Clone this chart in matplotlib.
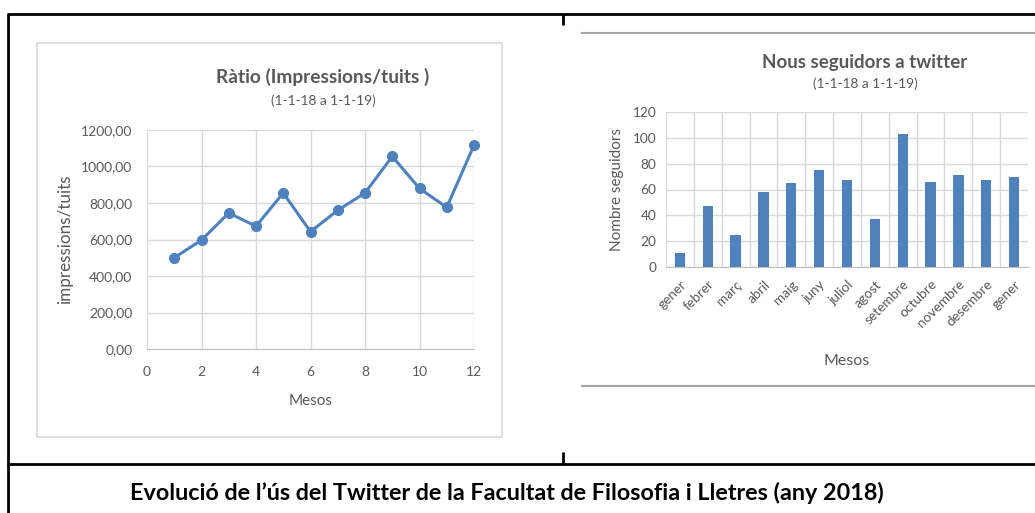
import matplotlib
matplotlib.use("Agg")
import matplotlib.pyplot as plt
from matplotlib.patches import Rectangle
from matplotlib.lines import Line2D

plt.rcParams['font.family'] = ['Lato', 'DejaVu Sans']

# ---- data ----
months_num = [1, 2, 3, 4, 5, 6, 7, 8, 9, 10, 11, 12]
ratio_values = [500, 597, 745, 673, 855, 643, 760, 855, 1055, 880, 776, 1117]

month_labels = ['gener', 'febrer', 'març', 'abril', 'maig', 'juny', 'juliol',
                'agost', 'setembre', 'octubre', 'novembre', 'desembre', 'gener']
followers = [11, 47, 25, 58, 65, 75, 67, 37, 103, 66, 71, 67, 70]

ratio_yticks = [0, 200, 400, 600, 800, 1000, 1200]
ratio_xticks = [0, 2, 4, 6, 8, 10, 12]
foll_yticks = [0, 20, 40, 60, 80, 100, 120]

W, H = 1035, 513
BLUE = '#4F81BD'
TXT = '#595959'
GRID = '#D9D9D9'

fig = plt.figure(figsize=(W / 100, H / 100), dpi=100)


def fx(x):
    return x / W


def fy(y):
    return 1 - y / H


def hline(x0, x1, y, color='black', lw=2.0):
    fig.add_artist(Line2D([fx(x0), fx(x1)], [fy(y), fy(y)], color=color, lw=lw,
                          transform=fig.transFigure, solid_capstyle='butt'))


def vline(x, y0, y1, color='black', lw=2.0):
    fig.add_artist(Line2D([fx(x), fx(x)], [fy(y0), fy(y1)], color=color, lw=lw,
                          transform=fig.transFigure, solid_capstyle='butt'))


# table borders
hline(7, W, 14)
vline(8, 14, H)
vline(563, 14, 25)
vline(563, 452, 464)
hline(7, W, 464)

# left chart frame
fig.add_artist(Rectangle((fx(37), fy(437)), fx(502) - fx(37), fy(43) - fy(437),
                         transform=fig.transFigure, fill=False, ec=GRID, lw=1.2))

# right chart rules
hline(581, W, 33, color='#A6A6A6', lw=1.5)
hline(581, W, 386, color='#A6A6A6', lw=1.5)

# ---- left chart ----
ax1 = fig.add_axes([fx(147), fy(349), fx(474) - fx(147), fy(130) - fy(349)])
ax1.plot(months_num, ratio_values, color=BLUE, lw=2.2, marker='o', ms=7,
         markerfacecolor=BLUE, markeredgecolor=BLUE, zorder=3, clip_on=False)
ax1.set_xlim(0, 12)
ax1.set_ylim(0, 1200)
ax1.set_xticks(ratio_xticks)
ax1.set_yticks(ratio_yticks)
ax1.set_yticklabels([f"{v:.2f}".replace('.', ',') for v in ratio_yticks])
ax1.grid(True, color=GRID, lw=1)
ax1.set_axisbelow(True)
for s in ['top', 'right', 'left']:
    ax1.spines[s].set_visible(False)
ax1.spines['bottom'].set_color('#BFBFBF')
ax1.tick_params(length=0, colors=TXT, labelsize=10, pad=10.5)
ax1.tick_params(axis='x', pad=12)
ax1.set_xlabel('Mesos', color=TXT, fontsize=11, labelpad=12)
ax1.set_ylabel('impressions/tuits', color=TXT, fontsize=12.3, labelpad=6)
fig.text(fx(323), fy(77), 'Ràtio (Impressions/tuits )', ha='center', va='center',
         fontsize=13.8, fontweight='bold', color=TXT)
fig.text(fx(323), fy(101), '(1-1-18 a 1-1-19)', ha='center', va='center',
         fontsize=9.8, color=TXT)

# ---- right chart ----
ax2 = fig.add_axes([fx(666), fy(267), fx(1028) - fx(666), fy(112) - fy(267)])
xpos = list(range(len(month_labels)))
ax2.bar(xpos, followers, width=0.37, color=BLUE, zorder=3)
ax2.set_xlim(-0.5, len(month_labels) - 0.5)
ax2.set_ylim(0, 120)
ax2.set_yticks(foll_yticks)
ax2.set_xticks([i + 0.5 for i in xpos[:-1]], minor=True)
ax2.set_xticks(xpos)
ax2.set_xticklabels(month_labels, rotation=45, ha='right', rotation_mode='anchor')
ax2.grid(True, axis='y', color=GRID, lw=1)
ax2.grid(True, axis='x', which='minor', color=GRID, lw=1)
ax2.set_axisbelow(True)
for s in ['top', 'right']:
    ax2.spines[s].set_visible(False)
ax2.spines['left'].set_color(GRID)
ax2.spines['bottom'].set_color('#BFBFBF')
ax2.tick_params(length=0, colors=TXT, labelsize=9.8, which='both')
ax2.tick_params(axis='y', pad=7)
ax2.tick_params(axis='x', pad=8)
ax2.set_xlabel('Mesos', color=TXT, fontsize=11.5)
ax2.set_ylabel('Nombre seguidors', color=TXT, fontsize=11, labelpad=6)
ax2.xaxis.set_label_coords((fx(847) - fx(666)) / (fx(1028) - fx(666)),
                           (fy(354) - fy(267)) / (fy(112) - fy(267)))
fig.text(fx(865), fy(63), 'Nous seguidors a twitter', ha='center', va='center',
         fontsize=13.5, fontweight='bold', color=TXT)
fig.text(fx(865), fy(84), '(1-1-18 a 1-1-19)', ha='center', va='center',
         fontsize=9.8, color=TXT)

# caption
fig.text(fx(507), fy(493), 'Evolució de l’ús del Twitter de la Facultat de Filosofia i Lletres (any 2018)',
         ha='center', va='center', fontsize=16.8, fontweight='bold', color='black')

fig.savefig('out.png', dpi=100)
